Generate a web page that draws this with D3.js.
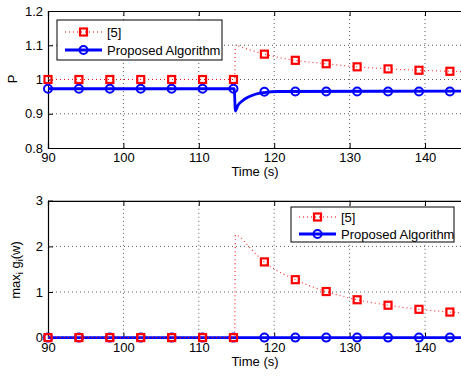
<!DOCTYPE html>
<html>
<head>
<meta charset="utf-8">
<script src="https://cdn.jsdelivr.net/npm/d3@7"></script>
<style>
body { margin: 0; background: #fff; }
text { font-family: "Liberation Sans", Arial, sans-serif; }
</style>
</head>
<body>
<svg id="chart" width="461" height="376"></svg>
<script>
// marker times (s)
const markerTimes = [90, 94.1, 98.2, 102.3, 106.4, 110.5, 114.6, 118.7, 122.8, 126.9, 131.0, 135.1, 139.2, 143.3];

// top panel: P
const refP = [1, 1, 1, 1, 1, 1, 1, 1.074, 1.056, 1.046, 1.037, 1.031, 1.027, 1.024];
const propP = [0.973, 0.973, 0.973, 0.973, 0.973, 0.973, 0.973, 0.964, 0.965, 0.965, 0.965, 0.965, 0.965, 0.965];
// line detail around the disturbance
const refPLineT = [90, 114.6, 114.75, 114.85, 116.0, 118.7, 122.8, 126.9, 131.0, 135.1, 139.2, 143.3, 145];
const refPLineV = [1, 1, 1.0, 1.1, 1.092, 1.074, 1.056, 1.046, 1.037, 1.031, 1.027, 1.024, 1.023];
const propPLineT = [90, 114.7, 114.85, 115.2, 115.8, 116.5, 117.5, 118.7, 120.5, 145];
const propPLineV = [0.973, 0.973, 0.908, 0.925, 0.938, 0.948, 0.957, 0.962, 0.965, 0.966];

// bottom panel: max_i g_i(w)
const refG = [0, 0, 0, 0, 0, 0, 0, 1.66, 1.27, 1.01, 0.83, 0.71, 0.62, 0.56];
const propG = [0, 0, 0, 0, 0, 0, 0, 0, 0, 0, 0, 0, 0, 0];
const refGLineT = [90, 114.6, 114.75, 114.85, 115.5, 116.5, 118.7, 122.8, 126.9, 131.0, 135.1, 139.2, 143.3, 145];
const refGLineV = [0, 0, 0, 2.25, 2.2, 2.02, 1.66, 1.27, 1.01, 0.83, 0.71, 0.62, 0.56, 0.54];
const propGLineT = [90, 145];
const propGLineV = [0, 0];

const xTicks = [90, 100, 110, 120, 130, 140];
const pTicks = [0.8, 0.9, 1, 1.1, 1.2];
const gTicks = [0, 1, 2, 3];
const legendLabels = ['[5]', 'Proposed Algorithm'];

const RED = '#ff0000';
const BLUE = '#0000ff';

const svg = d3.select('#chart');

const x = d3.scaleLinear().domain([90, 145]).range([48, 462.7]);

function zip(ts, vs) {
    return ts.map(function (t, i) { return { t: t, v: vs[i] }; });
}

function panel(opts) {
    const y = d3.scaleLinear().domain(opts.domain).range([opts.bottom, opts.top]);
    const g = svg.append('g');

    // grid
    g.selectAll('.gx').data(xTicks.slice(1)).enter().append('line')
        .attr('x1', d => x(d)).attr('x2', d => x(d))
        .attr('y1', opts.top).attr('y2', opts.bottom)
        .attr('stroke', '#333').attr('stroke-width', 0.8).attr('stroke-dasharray', '1,3');
    g.selectAll('.gy').data(opts.ticks.slice(1, -1)).enter().append('line')
        .attr('x1', x.range()[0]).attr('x2', x.range()[1])
        .attr('y1', d => y(d)).attr('y2', d => y(d))
        .attr('stroke', '#333').attr('stroke-width', 0.8).attr('stroke-dasharray', '1,3');

    // axes
    const xa = d3.axisBottom(x).tickValues(xTicks).tickSize(-5).tickPadding(5).tickFormat(d3.format('d'));
    const xaTop = d3.axisTop(x).tickValues(xTicks).tickSize(-5).tickFormat('');
    const ya = d3.axisLeft(y).tickValues(opts.ticks).tickSize(-5).tickPadding(5).tickFormat(opts.fmt);
    [g.append('g').attr('transform', 'translate(0,' + opts.bottom + ')').call(xa),
     g.append('g').attr('transform', 'translate(0,' + opts.top + ')').call(xaTop),
     g.append('g').attr('transform', 'translate(' + x.range()[0] + ',0)').call(ya)].forEach(function (a) {
        a.select('.domain').attr('stroke', '#000').attr('stroke-width', 1.2);
        a.selectAll('.tick line').attr('stroke', '#000');
        a.selectAll('text').attr('font-size', 13).attr('fill', '#000')
            .style('font-family', '"Liberation Sans", Arial, sans-serif');
    });

    const line = d3.line().x(d => x(d.t)).y(d => y(d.v)).curve(d3.curveMonotoneX);

    // proposed (blue)
    g.append('path').datum(zip(opts.propLineT, opts.propLineV))
        .attr('d', line).attr('fill', 'none').attr('stroke', BLUE).attr('stroke-width', 2.8);
    g.selectAll('.pc').data(zip(markerTimes, opts.propM)).enter().append('circle')
        .attr('cx', d => x(d.t)).attr('cy', d => y(d.v)).attr('r', 4)
        .attr('fill', 'none').attr('stroke', BLUE).attr('stroke-width', 2);

    // [5] (red)
    g.append('path').datum(zip(opts.refLineT, opts.refLineV))
        .attr('d', line).attr('fill', 'none').attr('stroke', RED).attr('stroke-width', 1.2)
        .attr('stroke-dasharray', '1,3').attr('stroke-opacity', 0.8);
    g.selectAll('.rs').data(zip(markerTimes, opts.refM)).enter().append('rect')
        .attr('x', d => x(d.t) - 3.5).attr('y', d => y(d.v) - 3.5)
        .attr('width', 7).attr('height', 7)
        .attr('fill', 'none').attr('stroke', RED).attr('stroke-width', 2.2);

    // x label
    g.append('text').attr('x', 255).attr('y', opts.bottom + 28)
        .attr('text-anchor', 'middle').attr('font-size', 13).text('Time (s)');

    // legend
    const L = opts.legend;
    g.append('rect').attr('x', L.x).attr('y', L.y).attr('width', L.w).attr('height', L.h)
        .attr('fill', '#fff').attr('stroke', '#000').attr('stroke-width', 1);
    legendLabels.forEach(function (lab, i) {
        const cy = L.y + L.rows[i];
        const x1 = L.x + 8, x2 = L.x + 45, mx = (x1 + x2) / 2;
        if (i === 0) {
            g.append('line').attr('x1', x1).attr('x2', x2).attr('y1', cy).attr('y2', cy)
                .attr('stroke', RED).attr('stroke-width', 1.2).attr('stroke-dasharray', '1,3');
            g.append('rect').attr('x', mx - 3.5).attr('y', cy - 3.5).attr('width', 7).attr('height', 7)
                .attr('fill', 'none').attr('stroke', RED).attr('stroke-width', 2.2);
        } else {
            g.append('line').attr('x1', x1).attr('x2', x2).attr('y1', cy).attr('y2', cy)
                .attr('stroke', BLUE).attr('stroke-width', 2.8);
            g.append('circle').attr('cx', mx).attr('cy', cy).attr('r', 4)
                .attr('fill', 'none').attr('stroke', BLUE).attr('stroke-width', 2);
        }
        g.append('text').attr('x', L.x + 50).attr('y', cy + 5)
            .attr('font-size', 13).text(lab);
    });
    return g;
}

panel({
    domain: [0.8, 1.2], top: 11, bottom: 148, ticks: pTicks, fmt: d3.format('~g'),
    refM: refP, propM: propP,
    refLineT: refPLineT, refLineV: refPLineV,
    propLineT: propPLineT, propLineV: propPLineV,
    legend: { x: 57, y: 20, w: 165, h: 40, rows: [12, 30] }
});

panel({
    domain: [0, 3], top: 200.8, bottom: 337.6, ticks: gTicks, fmt: d3.format('d'),
    refM: refG, propM: propG,
    refLineT: refGLineT, refLineV: refGLineV,
    propLineT: propGLineT, propLineV: propGLineV,
    legend: { x: 291, y: 207, w: 163, h: 35, rows: [10, 27] }
});

// y labels
svg.append('text').attr('transform', 'translate(17,79) rotate(-90)')
    .attr('text-anchor', 'middle').attr('font-size', 13).text('P');

const gl = svg.append('text').attr('transform', 'translate(20,270) rotate(-90)')
    .attr('text-anchor', 'middle').attr('font-size', 13);
gl.append('tspan').text('max');
gl.append('tspan').attr('font-size', 9).attr('dy', 3).text('i');
gl.append('tspan').attr('dy', -3).text(' g');
gl.append('tspan').attr('font-size', 9).attr('dy', 3).text('i');
gl.append('tspan').attr('dy', -3).text('(w)');
</script>
</body>
</html>
